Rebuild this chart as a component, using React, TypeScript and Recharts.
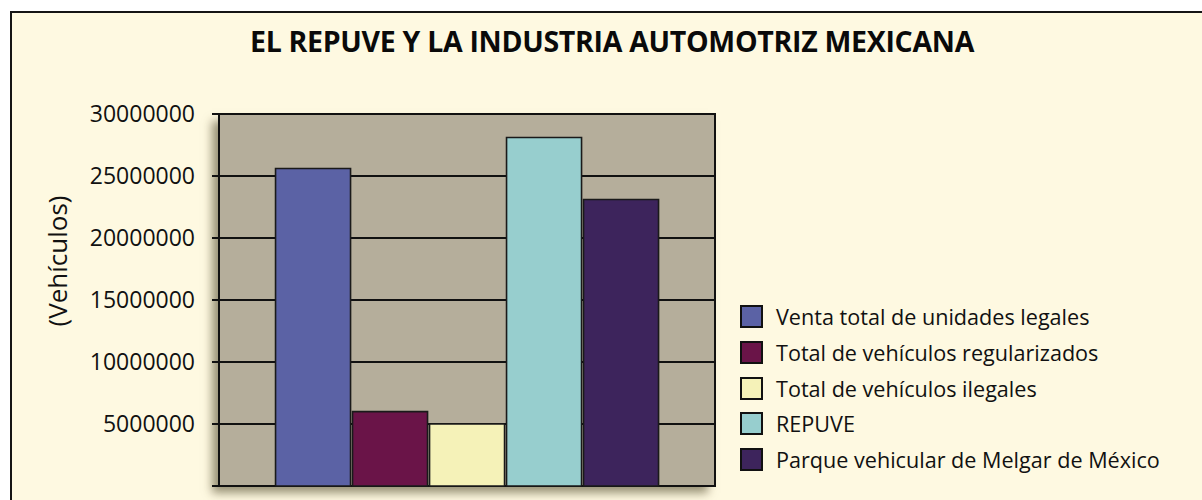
import React, { ReactElement } from "react";
import {
  Bar,
  BarChart,
  CartesianGrid,
  ReferenceArea,
  XAxis,
  YAxis,
} from "recharts";

const categories = ["Vehículos"];
const seriesNames = [
  "Venta total de unidades legales",
  "Total de vehículos regularizados",
  "Total de vehículos ilegales",
  "REPUVE",
  "Parque vehicular de Melgar de México",
];
const seriesValues = [25600000, 6000000, 5000000, 28100000, 23100000];
const seriesColors = ["#5B62A5", "#6A1448", "#F5F2B8", "#97CECE", "#3D245C"];
const yTicks = [0, 5000000, 10000000, 15000000, 20000000, 25000000, 30000000];

const FONT = "'Open Sans', 'Noto Sans', sans-serif";
const BG = "#FEF9E1";
const PLOT_BG = "#B5AE9B";

const data = categories.map((name) => {
  const row: Record<string, string | number> = { name };
  seriesValues.forEach((v, i) => {
    row[`s${i}`] = v;
  });
  return row;
});

function LegendBox(): ReactElement {
  return (
    <div
      style={{
        position: "absolute",
        left: 740,
        top: 299,
        fontFamily: FONT,
      }}
    >
      {seriesNames.map((n, i) => (
        <div
          key={`leg-${i}`}
          style={{ display: "flex", alignItems: "center", height: 35.7 }}
        >
          <span
            style={{
              width: 19,
              height: 19,
              background: seriesColors[i],
              border: "2px solid #111",
              marginRight: 13,
              flex: "none",
            }}
          />
          <span style={{ fontSize: 21.6, color: "#111", whiteSpace: "nowrap" }}>
            {n}
          </span>
        </div>
      ))}
    </div>
  );
}

export default function App(): ReactElement {
  return (
    <div
      style={{
        position: "absolute",
        left: 0,
        top: 0,
        width: 1202,
        height: 500,
        overflow: "hidden",
      }}
    >
      <div
        style={{
          position: "absolute",
          left: 10,
          top: 11,
          width: 1250,
          height: 540,
          border: "2px solid #151515",
          background: BG,
        }}
      />
      <div
        style={{
          position: "absolute",
          left: 0,
          top: 22,
          width: 1224,
          textAlign: "center",
          fontFamily: FONT,
          fontWeight: 700,
          fontSize: 28.5,
          color: "#0a0a0a",
          letterSpacing: -0.3,
        }}
      >
        EL REPUVE Y LA INDUSTRIA AUTOMOTRIZ MEXICANA
      </div>
      <div
        style={{
          position: "absolute",
          left: 57,
          top: 261,
          transform: "translate(-50%, -50%) rotate(-90deg)",
          fontFamily: FONT,
          fontSize: 26,
          color: "#111",
          whiteSpace: "nowrap",
        }}
      >
        (Vehículos)
      </div>
      <div
        style={{
          position: "absolute",
          left: 219,
          top: 114,
          width: 496,
          height: 372,
          boxShadow: "-7px 7px 9px rgba(70,60,30,0.55)",
        }}
      />
      <div style={{ position: "absolute", left: 0, top: 0 }}>
        <BarChart
          width={1202}
          height={500}
          data={data}
          margin={{ top: 114, right: 487, bottom: 14, left: 79 }}
          barCategoryGap="11.4%"
          barGap={2}
          style={{ fontFamily: FONT }}
        >
          <CartesianGrid
            vertical={false}
            stroke="#111"
            strokeWidth={1.8}
            fill={PLOT_BG}
            fillOpacity={1}
          />
          <XAxis
            dataKey="name"
            height={0}
            tick={false}
            tickLine={false}
            axisLine={{ stroke: "#111", strokeWidth: 2 }}
          />
          <YAxis
            width={140}
            domain={[0, 30000000]}
            ticks={yTicks}
            interval={0}
            tickSize={7}
            tickMargin={17}
            tickLine={{ stroke: "#111", strokeWidth: 2 }}
            axisLine={{ stroke: "#111", strokeWidth: 2 }}
            tickFormatter={(v: number) => (v === 0 ? "" : String(v))}
            tick={{ fill: "#111", fontSize: 23, fontFamily: FONT }}
          />
          <ReferenceArea
            y1={0}
            y2={30000000}
            fill="none"
            stroke="#111"
            strokeWidth={2}
            ifOverflow="visible"
          />
          {seriesNames.map((n, i) => (
            <Bar
              key={n}
              dataKey={`s${i}`}
              name={n}
              fill={seriesColors[i]}
              stroke="#1a1a1a"
              strokeWidth={1.6}
              isAnimationActive={false}
            />
          ))}
        </BarChart>
      </div>
      <LegendBox />
    </div>
  );
}
